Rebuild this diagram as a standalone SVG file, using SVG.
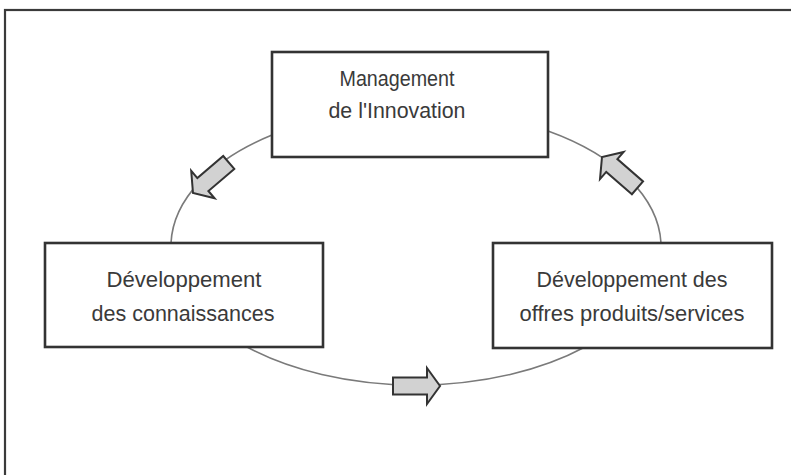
<svg xmlns="http://www.w3.org/2000/svg" width="791" height="475" viewBox="0 0 791 475">
  <style>
    .frame { fill: none; stroke: #3a3a3a; stroke-width: 2.2; }
    .box { fill: #ffffff; stroke: #333333; stroke-width: 2.6; }
    .conn { fill: none; stroke: #7a7a7a; stroke-width: 1.6; }
    .arrow { fill: #d2d2d2; stroke: #333333; stroke-width: 2; stroke-linejoin: miter; }
    .lbl { font-family: "Liberation Sans", Arial, sans-serif; font-size: 22px; fill: #3a3a3a; text-anchor: middle; }
  </style>
  <defs>
    <polygon id="blockArrow" points="-47,-8.5 -13,-8.5 -13,-18 0,0 -13,18 -13,8.5 -47,8.5"/>
  </defs>
  <rect width="791" height="475" fill="#ffffff"/>
  <rect class="frame" x="5" y="10" width="800" height="500"/>

  <g id="connectors">
    <path class="conn" d="M272,135 A245,138 0 0,0 171,243"/>
    <path class="conn" d="M661,243 A245,138 0 0,0 548,131"/>
    <path class="conn" d="M247,347 A245,138 0 0,0 585,347"/>
    <use href="#blockArrow" class="arrow" transform="translate(193,193) rotate(139.5)"/>
    <use href="#blockArrow" class="arrow" transform="translate(602,157) rotate(-139)"/>
    <use href="#blockArrow" class="arrow" transform="translate(440,386)"/>
  </g>

  <g id="node-management">
    <rect class="box" x="272" y="52" width="276" height="105"/>
    <text class="lbl" x="397" y="86" textLength="115" lengthAdjust="spacingAndGlyphs">Management</text>
    <text class="lbl" x="397" y="118" textLength="137" lengthAdjust="spacingAndGlyphs">de l'Innovation</text>
  </g>

  <g id="node-connaissances">
    <rect class="box" x="45" y="243" width="278" height="104"/>
    <text class="lbl" x="184" y="287" textLength="155" lengthAdjust="spacingAndGlyphs">Développement</text>
    <text class="lbl" x="183" y="321" textLength="183" lengthAdjust="spacingAndGlyphs">des connaissances</text>
  </g>

  <g id="node-offres">
    <rect class="box" x="493" y="243" width="279" height="105"/>
    <text class="lbl" x="632" y="287" textLength="191" lengthAdjust="spacingAndGlyphs">Développement des</text>
    <text class="lbl" x="632" y="321" textLength="225" lengthAdjust="spacingAndGlyphs">offres produits/services</text>
  </g>
</svg>
